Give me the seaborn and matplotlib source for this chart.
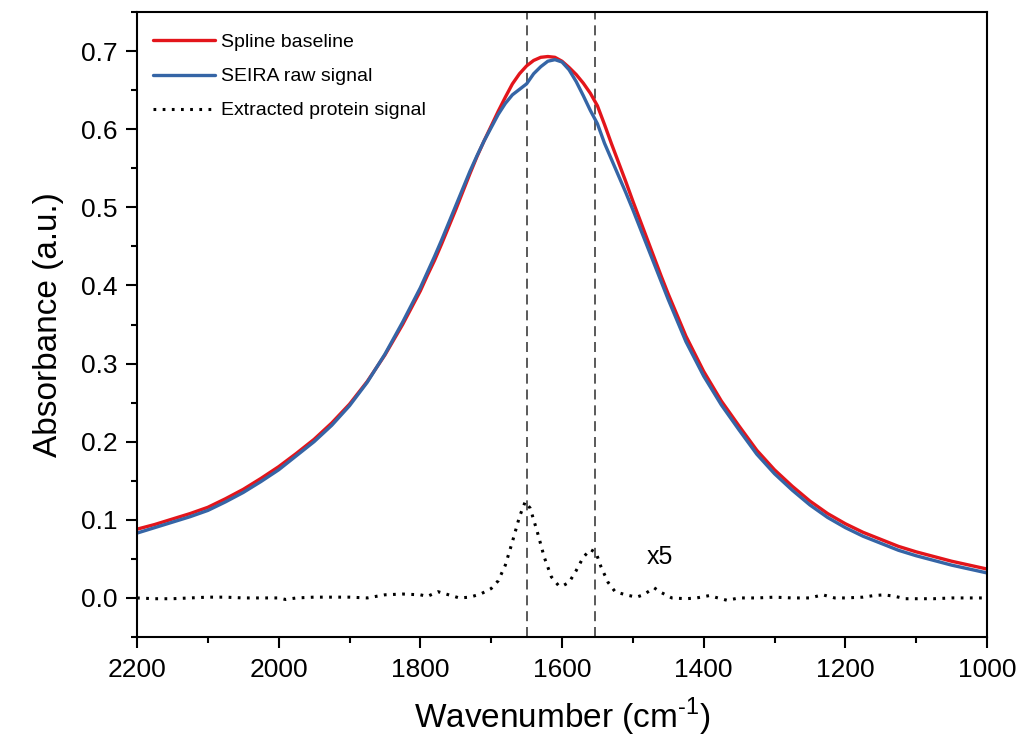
import numpy as np
import pandas as pd
import matplotlib
matplotlib.use("Agg")
import matplotlib.pyplot as plt
from matplotlib.ticker import MultipleLocator, FormatStrFormatter
import seaborn as sns

# ---------------- data ----------------
wavenumber = [2200, 2175, 2150, 2125, 2100, 2075, 2050, 2025, 2000, 1975, 1950, 1925,
              1900, 1875, 1850, 1825, 1800, 1790, 1780, 1770, 1760, 1750, 1740, 1730,
              1720, 1710, 1700, 1690, 1680, 1670, 1660, 1650, 1640, 1630, 1620, 1610,
              1600, 1590, 1580, 1570, 1560, 1550, 1540, 1530, 1520, 1510, 1500, 1490,
              1480, 1470, 1460, 1450, 1425, 1400, 1375, 1350, 1325, 1300, 1275, 1250,
              1225, 1200, 1175, 1150, 1125, 1100, 1075, 1050, 1025, 1000]
spline_baseline = [0.088, 0.094, 0.101, 0.108, 0.116, 0.127, 0.139, 0.153, 0.168, 0.185,
                   0.203, 0.224, 0.248, 0.277, 0.311, 0.350, 0.393, 0.413, 0.432, 0.453,
                   0.475, 0.497, 0.520, 0.543, 0.565, 0.585, 0.604, 0.623, 0.641, 0.658,
                   0.671, 0.681, 0.688, 0.692, 0.693, 0.692, 0.687, 0.679, 0.670, 0.659,
                   0.646, 0.630, 0.606, 0.581, 0.557, 0.533, 0.508, 0.484, 0.460, 0.436,
                   0.412, 0.389, 0.335, 0.290, 0.252, 0.220, 0.189, 0.164, 0.143, 0.124,
                   0.108, 0.095, 0.084, 0.075, 0.066, 0.059, 0.053, 0.047, 0.042, 0.037]
seira_raw = [0.083, 0.090, 0.097, 0.104, 0.112, 0.123, 0.135, 0.149, 0.164, 0.182,
             0.200, 0.221, 0.246, 0.276, 0.312, 0.353, 0.397, 0.417, 0.437, 0.458,
             0.480, 0.502, 0.524, 0.546, 0.566, 0.585, 0.602, 0.619, 0.633, 0.644,
             0.651, 0.658, 0.671, 0.680, 0.687, 0.689, 0.686, 0.676, 0.661, 0.643,
             0.624, 0.607, 0.582, 0.561, 0.540, 0.519, 0.497, 0.474, 0.451, 0.428,
             0.405, 0.382, 0.328, 0.284, 0.247, 0.215, 0.184, 0.159, 0.138, 0.119,
             0.103, 0.090, 0.079, 0.070, 0.061, 0.054, 0.048, 0.042, 0.037, 0.032]

protein_wn = [2200, 2175, 2150, 2125, 2100, 2075, 2050, 2025, 2000, 1990, 1975, 1950,
              1925, 1900, 1875, 1850, 1825, 1800, 1790, 1775, 1760, 1745, 1730, 1715,
              1700, 1690, 1680, 1670, 1660, 1652, 1645, 1635, 1625, 1615, 1605, 1600,
              1590, 1580, 1570, 1560, 1552, 1545, 1535, 1525, 1510, 1495, 1485, 1470,
              1460, 1445, 1425, 1410, 1392, 1380, 1367, 1350, 1325, 1300, 1275, 1250,
              1232, 1215, 1200, 1175, 1160, 1145, 1130, 1115, 1100, 1075, 1050, 1025, 1000]
protein_signal = [0.000, -0.001, -0.001, 0.000, 0.001, 0.001, 0.000, 0.000, 0.000, -0.002,
                  0.000, 0.001, 0.001, 0.001, 0.000, 0.004, 0.005, 0.004, 0.002, 0.008,
                  0.004, 0.000, 0.001, 0.005, 0.012, 0.022, 0.042, 0.072, 0.104, 0.123,
                  0.115, 0.085, 0.052, 0.027, 0.016, 0.015, 0.020, 0.035, 0.052, 0.062,
                  0.058, 0.040, 0.020, 0.008, 0.004, 0.001, 0.004, 0.013, 0.007, 0.000,
                  -0.001, 0.000, 0.003, 0.000, -0.003, 0.000, 0.000, 0.001, 0.000, 0.000,
                  0.004, 0.000, 0.000, 0.001, 0.003, 0.004, 0.002, -0.001, -0.001, -0.001,
                  0.000, 0.000, 0.000]

marker_lines = [1650, 1553]
series_labels = ["Spline baseline", "SEIRA raw signal", "Extracted protein signal"]
scale_note = "x5"

# ---------------- plotting ----------------
sns.set_style("ticks")
plt.rcParams["font.family"] = ["Liberation Sans", "DejaVu Sans"]
plt.rcParams["mathtext.fontset"] = "custom"
plt.rcParams["mathtext.rm"] = "Liberation Sans"
plt.rcParams["text.color"] = "black"
plt.rcParams["axes.labelcolor"] = "black"
plt.rcParams["xtick.color"] = "black"
plt.rcParams["ytick.color"] = "black"

fig = plt.figure(figsize=(10.21, 7.38), dpi=100)
ax = fig.add_axes([137 / 1021, 1 - 637 / 738, (987 - 137) / 1021, (637 - 12) / 738])

df_main = pd.DataFrame({"wn": wavenumber, "base": spline_baseline, "raw": seira_raw})
df_prot = pd.DataFrame({"wn": protein_wn, "prot": protein_signal})

sns.lineplot(data=df_main, x="wn", y="base", ax=ax, color="#E3151B", lw=2.4,
             label=series_labels[0], sort=False)
sns.lineplot(data=df_main, x="wn", y="raw", ax=ax, color="#3565A6", lw=2.4,
             label=series_labels[1], sort=False)
sns.lineplot(data=df_prot, x="wn", y="prot", ax=ax, color="black", lw=2.2,
             linestyle=(0, (0.9, 2.1)), label=series_labels[2], sort=False)

for xv in marker_lines:
    ax.axvline(xv, color="#3d3d3d", lw=1.2, linestyle=(0, (6, 3.5)), zorder=1)

ax.text(1462, 0.052, scale_note, fontsize=18, ha="center", va="center")

ax.set_xlim(2200, 1000)
ax.set_ylim(-0.05, 0.75)
ax.xaxis.set_major_locator(MultipleLocator(200))
ax.xaxis.set_minor_locator(MultipleLocator(100))
ax.yaxis.set_major_locator(MultipleLocator(0.1))
ax.yaxis.set_minor_locator(MultipleLocator(0.05))
ax.yaxis.set_major_formatter(FormatStrFormatter("%.1f"))

ax.tick_params(axis="both", which="major", direction="out", length=8, width=1.5,
               labelsize=19, color="black", labelcolor="black")
ax.tick_params(axis="both", which="minor", direction="out", length=4.5, width=1.5,
               color="black")
ax.tick_params(axis="x", which="major", pad=7)
ax.tick_params(axis="y", which="major", pad=6)

for side in ["top", "right", "bottom", "left"]:
    ax.spines[side].set_visible(True)
    ax.spines[side].set_linewidth(1.5)
    ax.spines[side].set_color("black")

ax.set_xlabel("Wavenumber (cm$^{\\mathregular{\u2010}1}$)", fontsize=24, labelpad=10)
ax.set_ylabel("Absorbance (a.u.)", fontsize=24, labelpad=12)

leg = ax.legend(loc="upper left", frameon=False, fontsize=14, handlelength=3.2,
                handletextpad=0.3, labelspacing=0.85, borderaxespad=0.4,
                bbox_to_anchor=(0.0, 1.0 - 6 / 625))

fig.savefig("out.png", dpi=100)
